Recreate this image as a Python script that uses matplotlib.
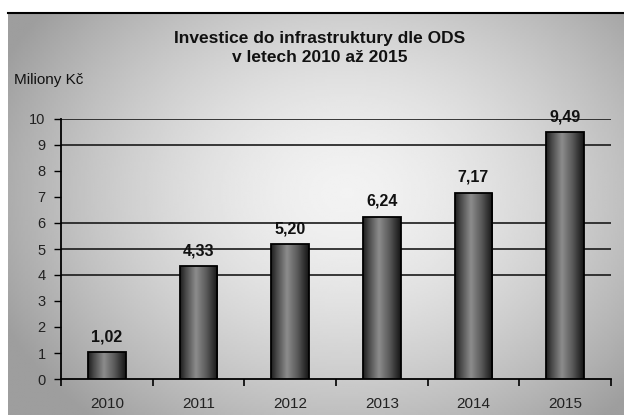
import numpy as np
import matplotlib
matplotlib.use("Agg")
import matplotlib.pyplot as plt
from matplotlib.colors import LinearSegmentedColormap

# ---- data ----
years = ["2010", "2011", "2012", "2013", "2014", "2015"]
values = [1.02, 4.33, 5.20, 6.24, 7.17, 9.49]
value_labels = ["1,02", "4,33", "5,20", "6,24", "7,17", "9,49"]
y_ticks = [0, 1, 2, 3, 4, 5, 6, 7, 8, 9, 10]
grid_levels = [4, 5, 6, 9, 10]
title = "Investice do infrastruktury dle ODS\nv letech 2010 až 2015"
y_unit = "Miliony Kč"

plt.rcParams['font.family'] = ['Liberation Sans', 'DejaVu Sans']

W, H = 624, 415
fig = plt.figure(figsize=(W / 100, H / 100), dpi=100)
fig.patch.set_facecolor("white")

# ---- background gradient panel ----
bg_left, bg_top = 8, 13
bg = fig.add_axes([bg_left / W, 0, 1 - bg_left / W, 1 - bg_top / H])
ny, nx = 200, 300
yy, xx = np.mgrid[0:1:ny * 1j, 0:1:nx * 1j]
cx, cy = 0.55, 0.45
d = np.sqrt(((xx - cx) / 0.62) ** 2 + ((yy - cy) / 0.75) ** 2)
d = np.clip(d, 0, 1)
light, dark = 0.95, 0.62
img = light - (light - dark) * d ** 1.6
bg.imshow(img, cmap="gray", vmin=0, vmax=1, aspect="auto",
          extent=[0, 1, 0, 1], origin="upper", interpolation="bilinear")
bg.set_xlim(0, 1)
bg.set_ylim(0, 1)
bg.axis("off")
# top border line
fig.add_artist(plt.Line2D([bg_left / W, 1], [1 - bg_top / H, 1 - bg_top / H],
                          color="black", lw=1.5, transform=fig.transFigure))

# ---- main axes ----
ax_l, ax_r = 61, 611
ax_b, ax_t = 379, 119
ax = fig.add_axes([ax_l / W, 1 - ax_b / H, (ax_r - ax_l) / W, (ax_b - ax_t) / H])
ax.set_facecolor("none")

x = np.arange(len(years))
bars = ax.bar(x, values, width=0.41, facecolor="none", edgecolor="black",
              linewidth=1.3, zorder=4)

cyl = LinearSegmentedColormap.from_list(
    "cyl", [(0.0, "#1e1e1e"), (0.15, "#4a4a4a"), (0.42, "#8c8c8c"),
            (0.7, "#5a5a5a"), (1.0, "#151515")])
grad = np.linspace(0, 1, 64).reshape(1, -1)
for b in bars:
    bx, bw, bh = b.get_x(), b.get_width(), b.get_height()
    im = ax.imshow(grad, cmap=cyl, aspect="auto",
                   extent=[bx, bx + bw, 0, bh], zorder=3, interpolation="bilinear")
    im.set_clip_path(b)

for gl in grid_levels:
    ax.axhline(gl, color="#1a1a1a", lw=1.2, zorder=1)

for xi, v, lab in zip(x, values, value_labels):
    ax.text(xi, v + 0.3, lab, ha="center", va="bottom", fontsize=11.5,
            fontweight="bold", color="#111111", zorder=5)

ax.set_xlim(-0.5, len(years) - 0.5)
ax.set_ylim(0, 10)
ax.set_yticks(y_ticks)
ax.set_yticklabels([str(t) for t in y_ticks], fontsize=10.5, color="#222222")
ax.set_xticks(x)
ax.set_xticklabels(years, fontsize=11, color="#222222")
ax.set_xticks(np.arange(len(years) + 1) - 0.5, minor=True)
ax.tick_params(axis="x", which="major", length=0, pad=13)
ax.tick_params(axis="x", which="minor", length=5, width=1.2, direction="out", color="black")
ax.tick_params(axis="y", length=5, width=1.0, direction="out", color="black", pad=6)

for s in ["top", "right"]:
    ax.spines[s].set_visible(False)
ax.spines["left"].set_linewidth(1.3)
ax.spines["bottom"].set_linewidth(1.3)
ax.set_ylim(0, 10)
ax.set_xlim(-0.5, len(years) - 0.5)

fig.text(320 / W, 1 - 31 / H, title, ha="center", va="top", fontsize=12.5,
         fontweight="bold", color="#111111", linespacing=1.3)
fig.text(14 / W, 1 - 80 / H, y_unit, ha="left", va="center", fontsize=11,
         color="#111111")

fig.savefig("out.png", dpi=100)
